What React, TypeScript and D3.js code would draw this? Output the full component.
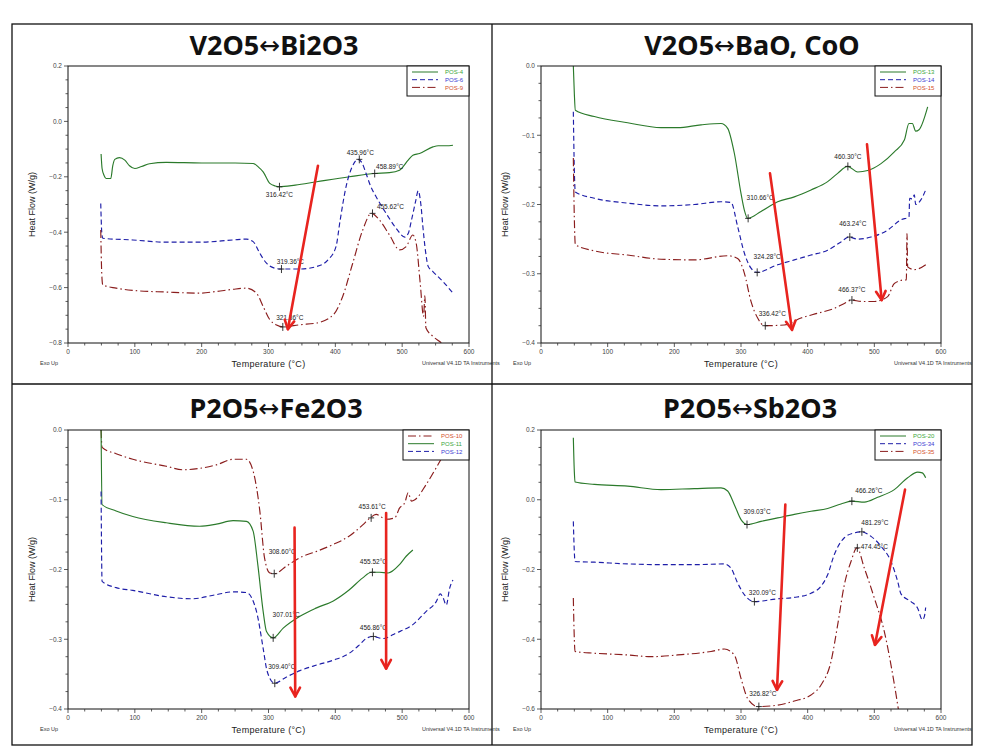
import React from "react";
import * as d3 from "d3";

type Pt = [number, number];
type Peak = [number, number, string];

// ---------- data: V2O5 <-> Bi2O3 ----------
const POS4: Pt[] = [[49.5,-0.118],[51,-0.170],[54,-0.195],[57,-0.206],[64,-0.206],[67,-0.160],[70,-0.137],[77,-0.131],[85,-0.140],[92,-0.160],[100,-0.170],[110,-0.163],[122,-0.153],[147,-0.148],[200,-0.150],[250,-0.150],[277,-0.152],[285,-0.165],[292,-0.182],[302,-0.224],[310,-0.233],[316,-0.236],[340,-0.230],[372,-0.218],[421,-0.200],[459,-0.188],[481,-0.185],[496,-0.176],[509,-0.140],[516,-0.122],[526,-0.116],[546,-0.092],[554,-0.088],[566,-0.088],[576,-0.086]];
const POS6: Pt[] = [[49,-0.296],[50.5,-0.40],[52,-0.422],[97,-0.428],[147,-0.436],[197,-0.436],[247,-0.428],[267,-0.425],[277,-0.434],[287,-0.476],[297,-0.512],[307,-0.528],[318,-0.533],[347,-0.533],[372,-0.524],[389,-0.500],[401,-0.452],[407,-0.360],[416,-0.236],[425,-0.165],[434,-0.137],[440,-0.150],[446,-0.188],[453,-0.235],[461,-0.272],[476,-0.332],[491,-0.386],[504,-0.418],[509,-0.405],[514,-0.356],[520,-0.290],[524,-0.251],[528,-0.300],[531,-0.380],[535,-0.470],[539,-0.524],[546,-0.542],[561,-0.578],[576,-0.620]];
const POS9: Pt[] = [[49,-0.392],[50.5,-0.55],[52,-0.590],[72,-0.602],[97,-0.610],[147,-0.616],[197,-0.620],[222,-0.614],[247,-0.606],[267,-0.602],[282,-0.620],[292,-0.668],[302,-0.716],[312,-0.735],[322,-0.742],[347,-0.734],[372,-0.728],[397,-0.698],[411,-0.632],[426,-0.512],[441,-0.392],[454,-0.332],[466,-0.356],[481,-0.410],[496,-0.464],[506,-0.452],[516,-0.410],[521,-0.440],[527,-0.584],[532,-0.704],[534,-0.63],[535.5,-0.745],[546,-0.776],[559,-0.800],[565,-0.815]];

// ---------- data: V2O5 <-> BaO, CoO ----------
const POS13: Pt[] = [[48.5,0.0],[50,-0.04],[51.5,-0.064],[80,-0.073],[130,-0.082],[180,-0.089],[205,-0.089],[240,-0.085],[270,-0.083],[280,-0.090],[290,-0.126],[300,-0.184],[305,-0.208],[310,-0.220],[330,-0.210],[355,-0.196],[380,-0.189],[405,-0.179],[430,-0.167],[445,-0.155],[460,-0.145],[475,-0.153],[490,-0.151],[510,-0.141],[530,-0.124],[545,-0.107],[552,-0.083],[557,-0.083],[562,-0.094],[567,-0.092],[580,-0.059]];
const POS14: Pt[] = [[48.5,-0.066],[50,-0.15],[51.5,-0.182],[80,-0.191],[130,-0.198],[180,-0.202],[230,-0.200],[270,-0.196],[285,-0.197],[295,-0.232],[305,-0.270],[315,-0.292],[324,-0.298],[355,-0.287],[380,-0.280],[405,-0.273],[430,-0.266],[450,-0.254],[462,-0.247],[475,-0.250],[495,-0.247],[520,-0.237],[540,-0.222],[552,-0.218],[553,-0.191],[557,-0.192],[560,-0.186],[562,-0.200],[570,-0.193],[577,-0.179]];
const POS15: Pt[] = [[48.5,-0.133],[50,-0.22],[51.5,-0.258],[80,-0.267],[130,-0.273],[180,-0.279],[230,-0.280],[280,-0.274],[295,-0.278],[305,-0.299],[315,-0.340],[325,-0.364],[335,-0.375],[365,-0.374],[390,-0.364],[415,-0.357],[440,-0.350],[455,-0.343],[466,-0.338],[480,-0.340],[500,-0.340],[520,-0.333],[530,-0.314],[545,-0.309],[548,-0.309],[549,-0.242],[550,-0.290],[560,-0.294],[580,-0.285]];

// ---------- data: P2O5 <-> Fe2O3 ----------
const POS10: Pt[] = [[49.5,0.0],[51,-0.025],[72,-0.034],[97,-0.042],[147,-0.052],[172,-0.057],[197,-0.055],[222,-0.050],[247,-0.042],[267,-0.042],[277,-0.059],[287,-0.116],[294,-0.183],[302,-0.205],[309,-0.206],[327,-0.195],[347,-0.183],[372,-0.174],[397,-0.164],[421,-0.152],[441,-0.136],[452,-0.126],[461,-0.121],[476,-0.128],[489,-0.126],[496,-0.112],[504,-0.104],[509,-0.090],[514,-0.102],[519,-0.100],[536,-0.078],[551,-0.054],[561,-0.037],[570,-0.020]];
const POS11: Pt[] = [[49.5,0.0],[51,-0.107],[72,-0.116],[97,-0.124],[147,-0.133],[197,-0.138],[222,-0.135],[247,-0.130],[267,-0.131],[277,-0.145],[284,-0.193],[292,-0.260],[297,-0.289],[307,-0.298],[322,-0.284],[347,-0.267],[372,-0.255],[397,-0.245],[421,-0.229],[441,-0.212],[454,-0.204],[466,-0.204],[479,-0.205],[496,-0.193],[506,-0.181],[516,-0.172]];
const POS12: Pt[] = [[49.5,-0.088],[51,-0.217],[72,-0.226],[97,-0.230],[147,-0.239],[185,-0.242],[222,-0.236],[247,-0.232],[267,-0.233],[282,-0.260],[292,-0.313],[297,-0.342],[302,-0.356],[309,-0.363],[327,-0.354],[347,-0.345],[372,-0.337],[397,-0.330],[421,-0.320],[436,-0.308],[446,-0.299],[456,-0.296],[471,-0.299],[491,-0.291],[516,-0.279],[536,-0.260],[551,-0.246],[557,-0.235],[561,-0.240],[566,-0.251],[571,-0.227],[576,-0.215]];

// ---------- data: P2O5 <-> Sb2O3 ----------
const POS20: Pt[] = [[48.5,0.178],[50,0.08],[51,0.051],[80,0.044],[130,0.039],[180,0.029],[230,0.032],[270,0.034],[280,0.025],[290,-0.014],[300,-0.057],[309,-0.071],[330,-0.062],[355,-0.052],[380,-0.042],[405,-0.033],[430,-0.025],[450,-0.012],[466,-0.004],[485,-0.007],[505,0.007],[530,0.029],[550,0.063],[565,0.079],[572,0.077],[577,0.063]];
const POS34: Pt[] = [[48.5,-0.062],[50,-0.15],[51,-0.177],[80,-0.179],[130,-0.184],[180,-0.186],[230,-0.186],[275,-0.184],[285,-0.196],[295,-0.239],[305,-0.272],[320,-0.292],[355,-0.284],[380,-0.280],[405,-0.268],[420,-0.248],[430,-0.215],[440,-0.157],[455,-0.109],[470,-0.095],[481,-0.092],[495,-0.105],[510,-0.133],[525,-0.177],[535,-0.234],[540,-0.270],[555,-0.292],[565,-0.311],[572,-0.344],[575,-0.335],[577,-0.309]];
const POS35: Pt[] = [[48.5,-0.282],[50,-0.40],[51,-0.435],[80,-0.440],[130,-0.445],[165,-0.450],[205,-0.445],[255,-0.435],[275,-0.428],[290,-0.445],[300,-0.512],[310,-0.570],[325,-0.593],[355,-0.589],[380,-0.577],[405,-0.560],[420,-0.531],[435,-0.464],[445,-0.359],[455,-0.244],[465,-0.177],[474,-0.138],[485,-0.196],[500,-0.282],[515,-0.378],[525,-0.474],[536,-0.600],[540,-0.650]];

// ---------- peak annotations (temperature, value, label) ----------
const PEAKS_TL: Peak[] = [[316.4,-0.236,"316.42°C"],[319.4,-0.533,"319.36°C"],[321.4,-0.742,"321.36°C"],[435.9,-0.137,"435.96°C"],[458.9,-0.188,"458.89°C"],[455.6,-0.332,"455.62°C"]];
const PEAKS_TR: Peak[] = [[310.7,-0.220,"310.66°C"],[460.3,-0.145,"460.30°C"],[324.3,-0.298,"324.28°C"],[463.2,-0.247,"463.24°C"],[336.4,-0.375,"336.42°C"],[466.4,-0.338,"466.37°C"]];
const PEAKS_BL: Peak[] = [[308.6,-0.206,"308.60°C"],[453.6,-0.126,"453.61°C"],[307.0,-0.298,"307.01°C"],[455.5,-0.204,"455.52°C"],[309.4,-0.363,"309.40°C"],[456.9,-0.296,"456.86°C"]];
const PEAKS_BR: Peak[] = [[309.0,-0.071,"309.03°C"],[466.3,-0.004,"466.26°C"],[320.1,-0.292,"320.09°C"],[481.3,-0.092,"481.29°C"],[326.8,-0.593,"326.82°C"],[474.5,-0.138,"474.45°C"]];

// ---------- red arrows [t0, v0, t1, v1] ----------
const ARROWS_TL: number[][] = [[374,-0.160,329,-0.750]];
const ARROWS_TR: number[][] = [[343.5,-0.155,376.5,-0.381],[489,-0.113,511,-0.338]];
const ARROWS_BL: number[][] = [[339,-0.140,340,-0.382],[476,-0.119,476,-0.342]];
const ARROWS_BR: number[][] = [[366.5,-0.014,354,-0.545],[546,0.029,501,-0.416]];

// ---------- axes ----------
const X_TICKS = [0, 100, 200, 300, 400, 500, 600];
const Y_TICKS_TL = [0.2, 0.0, -0.2, -0.4, -0.6, -0.8];
const Y_TICKS_TR = [0.0, -0.1, -0.2, -0.3, -0.4];
const Y_TICKS_BL = [0.0, -0.1, -0.2, -0.3, -0.4];
const Y_TICKS_BR = [0.2, 0.0, -0.2, -0.4, -0.6];

// title parts: [left, right] around the ↔ arrow
const TITLES: [string, string][] = [["V2O5", "Bi2O3"], ["V2O5", "BaO, CoO"], ["P2O5", "Fe2O3"], ["P2O5", "Sb2O3"]];

const LINE = { green: "#2b7a2b", blue: "#1e1ea8", red: "#8a1d1d" };
const LEG = { green: "#3aa63a", blue: "#3a3ad2", red: "#d3502c" };
const DASH: Record<string, string | undefined> = { solid: undefined, dash: "5,3", dashdot: "8,3,1.5,3" };
const ARROW_COLOR = "#e8241f";

type Series = { name: string; data: Pt[]; color: keyof typeof LINE; style: string };

interface PanelCfg {
  id: string;
  title: [string, string];
  titleX: number;
  titleY: number;
  box: { x0: number; x1: number; y0: number; y1: number };
  yDomain: [number, number];
  yTicks: number[];
  yMinor: number;
  series: Series[];
  peaks: Peak[];
  labelOff: number[][];
  arrows: number[][];
  legendX0: number;
}

const PANELS: PanelCfg[] = [
  {
    id: "tl", title: TITLES[0], titleX: 274, titleY: 55,
    box: { x0: 68, x1: 469, y0: 66, y1: 343 }, yDomain: [-0.8, 0.2], yTicks: Y_TICKS_TL, yMinor: 0.05,
    series: [
      { name: "POS-4", data: POS4, color: "green", style: "solid" },
      { name: "POS-6", data: POS6, color: "blue", style: "dash" },
      { name: "POS-9", data: POS9, color: "red", style: "dashdot" },
    ],
    peaks: PEAKS_TL, labelOff: [[0, 8], [9, -7], [7, -9], [1, -7], [15, -7], [18, -7]],
    arrows: ARROWS_TL, legendX0: 407,
  },
  {
    id: "tr", title: TITLES[1], titleX: 752, titleY: 55,
    box: { x0: 541, x1: 941, y0: 66, y1: 343 }, yDomain: [-0.4, 0], yTicks: Y_TICKS_TR, yMinor: 0.025,
    series: [
      { name: "POS-13", data: POS13, color: "green", style: "solid" },
      { name: "POS-14", data: POS14, color: "blue", style: "dash" },
      { name: "POS-15", data: POS15, color: "red", style: "dashdot" },
    ],
    peaks: PEAKS_TR, labelOff: [[12, -21], [0, -10], [10, -16], [3, -13], [7, -12], [0, -10]],
    arrows: ARROWS_TR, legendX0: 875,
  },
  {
    id: "bl", title: TITLES[2], titleX: 276, titleY: 418,
    box: { x0: 68, x1: 469, y0: 430, y1: 709 }, yDomain: [-0.4, 0], yTicks: Y_TICKS_BL, yMinor: 0.025,
    series: [
      { name: "POS-10", data: POS10, color: "red", style: "dashdot" },
      { name: "POS-11", data: POS11, color: "green", style: "solid" },
      { name: "POS-12", data: POS12, color: "blue", style: "dash" },
    ],
    peaks: PEAKS_BL, labelOff: [[8, -22], [1, -11], [13, -23], [1, -11], [7, -16], [0, -9]],
    arrows: ARROWS_BL, legendX0: 403,
  },
  {
    id: "br", title: TITLES[3], titleX: 750, titleY: 418,
    box: { x0: 541, x1: 941, y0: 430, y1: 709 }, yDomain: [-0.6, 0.2], yTicks: Y_TICKS_BR, yMinor: 0.05,
    series: [
      { name: "POS-20", data: POS20, color: "green", style: "solid" },
      { name: "POS-34", data: POS34, color: "blue", style: "dash" },
      { name: "POS-35", data: POS35, color: "red", style: "dashdot" },
    ],
    peaks: PEAKS_BR, labelOff: [[10, -13], [17, -10], [8, -9], [13, -9], [4, -13], [17, -1]],
    arrows: ARROWS_BR, legendX0: 875,
  },
];

const SANS = "'Liberation Sans', Arial, sans-serif";

function Panel({ p }: { p: PanelCfg }) {
  const { x0, x1, y0, y1 } = p.box;
  const x = d3.scaleLinear().domain([0, 600]).range([x0, x1]);
  const y = d3.scaleLinear().domain(p.yDomain).range([y1, y0]);
  const line = d3.line<Pt>().x((d) => x(d[0])).y((d) => y(d[1])).curve(d3.curveMonotoneX);
  const xMinor = d3.range(0, 600.001, 25);
  const yMinor = d3.range(p.yDomain[0], p.yDomain[1] + 1e-9, p.yMinor);
  const fmt = d3.format(".1f");
  const clipId = "clip-" + p.id;
  const midY = (y0 + y1) / 2;
  const legY0 = y0, legH = 30;

  return (
    <g>
      <defs>
        <clipPath id={clipId}>
          <rect x={x0} y={y0} width={x1 - x0} height={y1 - y0} />
        </clipPath>
      </defs>
      <text x={p.titleX} y={p.titleY} textAnchor="middle" fontFamily="'Noto Sans', 'Open Sans', sans-serif" fontWeight={700} fontSize={27} fill="#111">
        {p.title[0]}
        <tspan fontFamily="'DejaVu Sans', sans-serif" fontWeight={400} fontSize={25} dy={-1}>↔</tspan>
        <tspan dy={1}>{p.title[1]}</tspan>
      </text>
      {/* series */}
      <g clipPath={`url(#${clipId})`}>
        {p.series.map((s) => (
          <path key={s.name} d={line(s.data) || ""} fill="none" stroke={LINE[s.color]} strokeWidth={1.15} strokeDasharray={DASH[s.style]} />
        ))}
      </g>
      {/* peak markers */}
      {p.peaks.map((pk, i) => {
        const px = x(pk[0]), py = y(pk[1]);
        const off = p.labelOff[i];
        return (
          <g key={"pk" + i}>
            <line x1={px} x2={px} y1={py - 4} y2={py + 4} stroke="#222" strokeWidth={0.9} />
            <line x1={px - 3} x2={px + 3} y1={py} y2={py} stroke="#222" strokeWidth={0.9} />
            <text x={px + off[0]} y={py + off[1] + 2.3} textAnchor="middle" fontFamily={SANS} fontSize={6.5} fill="#222">{pk[2]}</text>
          </g>
        );
      })}
      {/* frame */}
      <rect x={x0} y={y0} width={x1 - x0} height={y1 - y0} fill="none" stroke="#111" strokeWidth={1} />
      {/* x ticks */}
      {xMinor.map((t) => {
        const major = t % 100 === 0;
        return <line key={"xt" + t} x1={x(t)} x2={x(t)} y1={y1} y2={y1 + (major ? 4 : 2.5)} stroke="#333" strokeWidth={0.8} />;
      })}
      {X_TICKS.map((t) => (
        <text key={"xl" + t} x={x(t)} y={y1 + 11} textAnchor="middle" fontFamily={SANS} fontSize={6.5} fill="#444">{t}</text>
      ))}
      {/* y ticks */}
      {yMinor.map((v, i) => {
        const major = p.yTicks.some((t) => Math.abs(t - v) < 1e-6);
        return <line key={"yt" + i} x1={x0} x2={x0 - (major ? 4 : 2.5)} y1={y(v)} y2={y(v)} stroke="#333" strokeWidth={0.8} />;
      })}
      {p.yTicks.map((v) => (
        <text key={"yl" + v} x={x0 - 6} y={y(v) + 2.3} textAnchor="end" fontFamily={SANS} fontSize={6.5} fill="#444">{fmt(v)}</text>
      ))}
      {/* axis titles */}
      <text transform={`translate(${x0 - 33},${midY}) rotate(-90)`} textAnchor="middle" fontFamily={SANS} fontSize={9} fill="#222">Heat Flow (W/g)</text>
      <text x={(x0 + x1) / 2} y={y1 + 24} textAnchor="middle" fontFamily={SANS} fontSize={9} fill="#222" letterSpacing={0.3}>Temperature (°C)</text>
      <text x={x0 - 28} y={y1 + 22} fontFamily={SANS} fontSize={5.5} fill="#333">Exo Up</text>
      <text x={x1 - 47} y={y1 + 22} fontFamily={SANS} fontSize={5.5} fill="#333">Universal V4.1D TA Instruments</text>
      {/* legend */}
      <rect x={p.legendX0} y={legY0} width={x1 - p.legendX0} height={legH} fill="#fff" stroke="#111" strokeWidth={1} />
      {p.series.map((s, i) => {
        const ly = legY0 + 6 + i * 7.7;
        return (
          <g key={"lg" + s.name}>
            <line x1={p.legendX0 + 5} x2={p.legendX0 + 31} y1={ly} y2={ly} stroke={LINE[s.color]} strokeWidth={1} strokeDasharray={DASH[s.style]} />
            <text x={p.legendX0 + 38} y={ly + 2.2} fontFamily={SANS} fontSize={6} fill={LEG[s.color]}>{s.name}</text>
          </g>
        );
      })}
      {/* red arrows */}
      {p.arrows.map((a, i) => {
        const ax0 = x(a[0]), ay0 = y(a[1]), ax1 = x(a[2]), ay1 = y(a[3]);
        const ang = Math.atan2(ay1 - ay0, ax1 - ax0);
        const L = 10, sp = 0.5;
        const h1 = [ax1 - L * Math.cos(ang - sp), ay1 - L * Math.sin(ang - sp)];
        const h2 = [ax1 - L * Math.cos(ang + sp), ay1 - L * Math.sin(ang + sp)];
        return (
          <g key={"ar" + i} stroke={ARROW_COLOR} strokeWidth={2.6} strokeLinecap="round" fill="none">
            <line x1={ax0} y1={ay0} x2={ax1} y2={ay1} />
            <polyline points={`${h1[0]},${h1[1]} ${ax1},${ay1} ${h2[0]},${h2[1]}`} strokeLinejoin="round" />
          </g>
        );
      })}
    </g>
  );
}

export default function App() {
  return (
    <svg width={989} height={756} style={{ position: "absolute", left: 0, top: 0, background: "#fff" }}>
      <rect x={0} y={0} width={989} height={756} fill="#fff" />
      {PANELS.map((p) => (
        <Panel key={p.id} p={p} />
      ))}
      {/* panel grid */}
      <g stroke="#111" strokeWidth={1.3} fill="none">
        <rect x={12} y={24} width={960} height={721} />
        <line x1={492} x2={492} y1={24} y2={745} />
        <line x1={12} x2={972} y1={384} y2={384} />
      </g>
    </svg>
  );
}
